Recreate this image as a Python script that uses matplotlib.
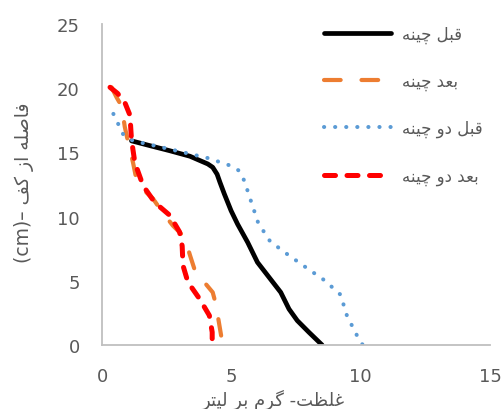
import matplotlib
matplotlib.use("Agg")
import matplotlib.pyplot as plt

# ---------------- data ----------------
before_x = [1.14, 1.9, 2.62, 3.4, 4.09, 4.28, 4.45, 4.56, 4.73, 4.99, 5.24, 5.63, 6.01, 6.46, 6.91, 7.23, 7.55, 8.0, 8.51]
before_y = [15.9, 15.5, 15.13, 14.7, 14.1, 13.84, 13.3, 12.67, 11.76, 10.46, 9.42, 8.0, 6.44, 5.27, 4.1, 2.8, 1.9, 0.99, 0.0]

after_x = [0.37, 0.56, 0.76, 0.88, 1.01, 1.2, 1.33, 1.6, 1.97, 2.35, 2.74, 3.19, 3.4, 3.64, 3.95, 4.28, 4.4, 4.5, 4.6, 4.67]
after_y = [20.07, 19.3, 18.6, 17.0, 15.8, 14.2, 12.9, 12.1, 11.4, 10.3, 9.3, 8.4, 7.0, 5.5, 4.9, 4.1, 3.2, 2.0, 0.8, 0.0]

before2_x = [0.44, 0.63, 0.82, 1.2, 2.2, 3.26, 4.09, 4.92, 5.28, 5.5, 5.76, 6.04, 6.5, 7.19, 7.9, 8.6, 9.22, 9.47, 9.86, 10.08]
before2_y = [18.0, 17.2, 16.4, 15.9, 15.45, 14.95, 14.56, 14.0, 13.6, 12.8, 11.2, 9.5, 8.07, 7.03, 6.02, 5.04, 3.92, 2.28, 0.73, 0.0]

after2_x = [0.31, 0.6, 0.88, 1.08, 1.14, 1.27, 1.59, 2.04, 2.62, 3.0, 3.1, 3.13, 3.32, 3.77, 4.15, 4.26, 4.26]
after2_y = [20.07, 19.6, 18.9, 17.9, 16.0, 14.2, 12.4, 11.1, 10.1, 8.8, 7.7, 6.2, 4.9, 3.6, 2.3, 1.0, 0.0]

series_labels = ["قبل چینه", "بعد چینه", "قبل دو چینه", "بعد دو چینه"]
x_title = "غلظت- گرم بر لیتر"
y_title_fa = "فاصله از کف"
x_ticks = [0, 5, 10, 15]
y_ticks = [0, 5, 10, 15, 20, 25]

# ---------------- simple Persian shaping ----------------
FORMS = {  # isolated, final, initial, medial
    'ا': ('\uFE8D', '\uFE8E', None, None),
    'ب': ('\uFE8F', '\uFE90', '\uFE91', '\uFE92'),
    'ت': ('\uFE95', '\uFE96', '\uFE97', '\uFE98'),
    'د': ('\uFEA9', '\uFEAA', None, None),
    'ر': ('\uFEAD', '\uFEAE', None, None),
    'ز': ('\uFEAF', '\uFEB0', None, None),
    'ص': ('\uFEB9', '\uFEBA', '\uFEBB', '\uFEBC'),
    'ظ': ('\uFEC5', '\uFEC6', '\uFEC7', '\uFEC8'),
    'ع': ('\uFEC9', '\uFECA', '\uFECB', '\uFECC'),
    'غ': ('\uFECD', '\uFECE', '\uFECF', '\uFED0'),
    'ف': ('\uFED1', '\uFED2', '\uFED3', '\uFED4'),
    'ق': ('\uFED5', '\uFED6', '\uFED7', '\uFED8'),
    'ل': ('\uFEDD', '\uFEDE', '\uFEDF', '\uFEE0'),
    'م': ('\uFEE1', '\uFEE2', '\uFEE3', '\uFEE4'),
    'ن': ('\uFEE5', '\uFEE6', '\uFEE7', '\uFEE8'),
    'ه': ('\uFEE9', '\uFEEA', '\uFEEB', '\uFEEC'),
    'و': ('\uFEED', '\uFEEE', None, None),
    'چ': ('\uFB7A', '\uFB7B', '\uFB7C', '\uFB7D'),
    'ک': ('\uFB8E', '\uFB8F', '\uFB90', '\uFB91'),
    'گ': ('\uFB92', '\uFB93', '\uFB94', '\uFB95'),
    'ی': ('\uFBFC', '\uFBFD', '\uFBFE', '\uFBFF'),
}


def shape(text):
    out = []
    n = len(text)
    for i, ch in enumerate(text):
        if ch not in FORMS:
            out.append(ch)
            continue
        f = FORMS[ch]
        prev = text[i - 1] if i > 0 else None
        nxt = text[i + 1] if i < n - 1 else None
        jp = prev in FORMS and FORMS[prev][2] is not None
        jn = nxt in FORMS and f[2] is not None
        if jp and jn:
            out.append(f[3])
        elif jp:
            out.append(f[1])
        elif jn:
            out.append(f[2])
        else:
            out.append(f[0])
    return ''.join(out)[::-1]


# ---------------- figure ----------------
fig = plt.figure(figsize=(5.03, 4.10), dpi=100)
ax = fig.add_axes([102 / 503, 1 - 346 / 410, (490 - 102) / 503, (346 - 25) / 410])

ax.plot(before_x, before_y, color='black', lw=3.4, solid_capstyle='round',
        solid_joinstyle='round', label=shape(series_labels[0]))
ax.plot(after_x, after_y, color='#ED7D31', lw=3.0, dashes=(4.0, 5.0),
        dash_capstyle='round', dash_joinstyle='round', label=shape(series_labels[1]))
ax.plot(before2_x, before2_y, color='#5B9BD5', lw=2.9, dashes=(0.05, 2.7),
        dash_capstyle='round', label=shape(series_labels[2]))
ax.plot(after2_x, after2_y, color='#FF0000', lw=3.6, dashes=(2.2, 2.3),
        dash_capstyle='round', dash_joinstyle='round', label=shape(series_labels[3]))

ax.set_xlim(0, 15)
ax.set_ylim(0, 25)
ax.set_xticks(x_ticks)
ax.set_yticks(y_ticks)
ax.tick_params(length=0, pad=16, labelsize=13, labelcolor='#595959')
for s in ['top', 'right']:
    ax.spines[s].set_visible(False)
for s in ['left', 'bottom']:
    ax.spines[s].set_color('#BFBFBF')
    ax.spines[s].set_linewidth(1.3)

leg = ax.legend(loc='upper left', bbox_to_anchor=((314 - 102) / 388, 1.03),
                frameon=False, fontsize=12, handlelength=4.0, handletextpad=0.65,
                labelspacing=1.74, borderaxespad=0.2)
for t in leg.get_texts():
    t.set_color('#595959')

fig.text(273 / 503, 1 - 405 / 410, shape(x_title), ha='center', va='baseline',
         fontsize=13, color='#595959')
fig.text(24 / 503, 1 - 183 / 410, '(cm)– ' + shape(y_title_fa), ha='center',
         va='center', rotation=90, fontsize=13.5, color='#595959')

fig.savefig('out.png', dpi=100)
